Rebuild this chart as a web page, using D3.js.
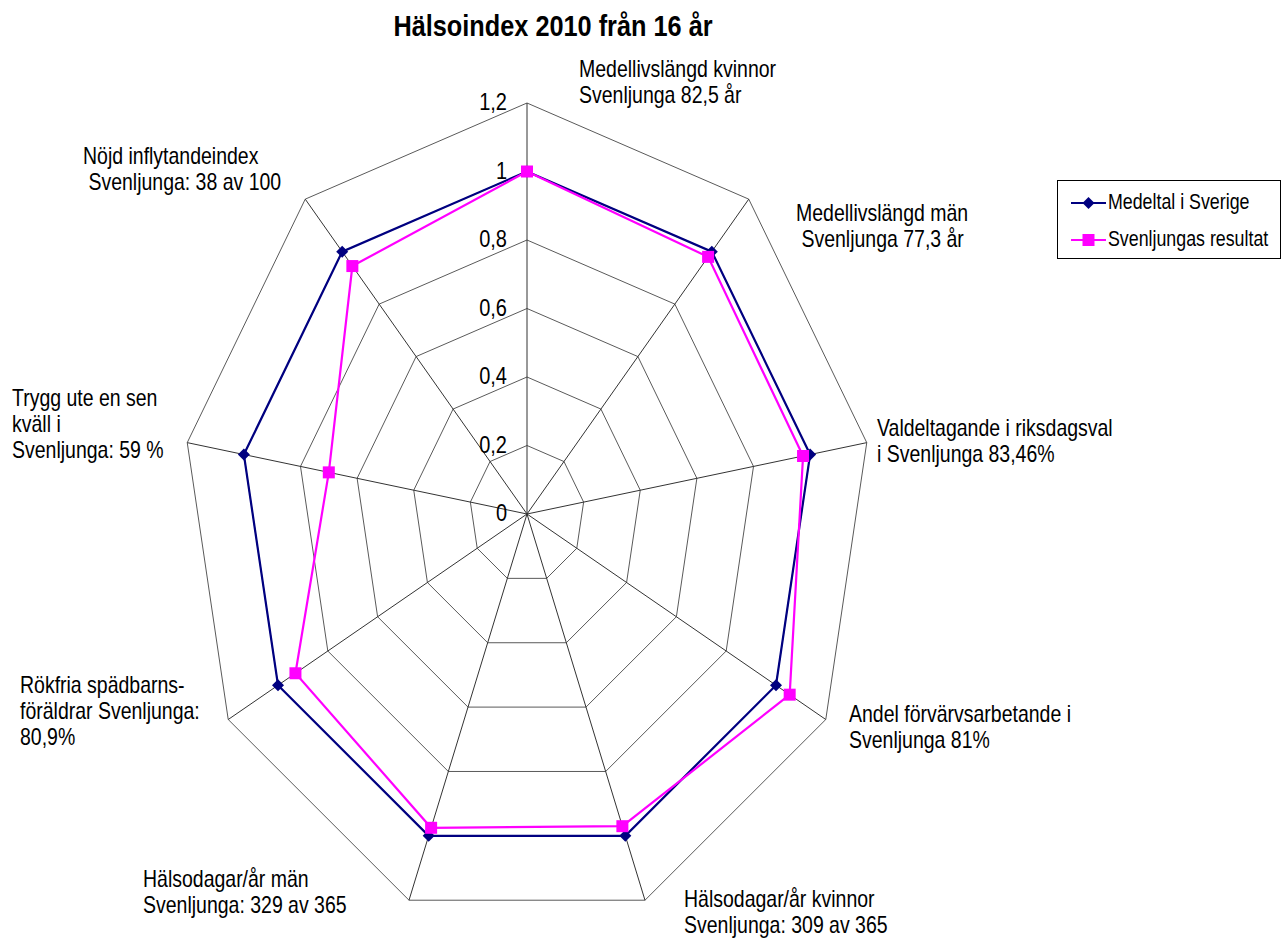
<!DOCTYPE html>
<html>
<head>
<meta charset="utf-8">
<script src="https://cdn.jsdelivr.net/npm/d3@7"></script>
<style>
  body { margin: 0; background: #fff; }
  text { font-family: "Liberation Sans", Arial, sans-serif; fill: #000; }
</style>
</head>
<body>
<div id="chart"></div>
<script>
// Hälsoindex radar chart

const title = 'Hälsoindex 2010 från 16 år';

const categories = [
  ['Medellivslängd kvinnor', 'Svenljunga 82,5 år'],
  ['Medellivslängd män', ' Svenljunga 77,3 år'],
  ['Valdeltagande i riksdagsval', 'i Svenljunga 83,46%'],
  ['Andel förvärvsarbetande i', 'Svenljunga 81%'],
  ['Hälsodagar/år kvinnor', 'Svenljunga: 309 av 365'],
  ['Hälsodagar/år män', 'Svenljunga: 329 av 365'],
  ['Rökfria spädbarns-', 'föräldrar Svenljunga:', '80,9%'],
  ['Trygg ute en sen', 'kväll i', 'Svenljunga: 59 %'],
  ['Nöjd inflytandeindex', ' Svenljunga: 38 av 100']
];

const seriesNames = ['Medeltal i Sverige', 'Svenljungas resultat'];
const sverige = [1, 1, 1, 1, 1, 1, 1, 1, 1];
const svenljunga = [1, 0.98, 0.975, 1.055, 0.97, 0.975, 0.93, 0.70, 0.945];
const ticks = [0, 0.2, 0.4, 0.6, 0.8, 1, 1.2];
const tickLabels = ['0', '0,2', '0,4', '0,6', '0,8', '1', '1,2'];

// label anchor (top-left of first line) for each axis, in px
const labelPos = [
  [579, 77], [796, 221], [877, 436], [849, 722], [684, 907],
  [143, 887], [20, 693], [12, 406], [83, 164]
];

const W = 1282, H = 940;
const cx = 527, cy = 514;
const RX = 345, RY = 411;   // chart is stretched vertically
const SY = 1.2;             // text vertical stretch

const svg = d3.select('#chart').append('svg')
  .attr('width', W).attr('height', H);

const r = d3.scaleLinear().domain([0, 1.2]).range([0, 1]);
const angle = d3.scaleLinear().domain([0, categories.length]).range([0, 2 * Math.PI]);

const pt = (i, v) => {
  const a = angle(i);
  return [cx + Math.sin(a) * r(v) * RX, cy - Math.cos(a) * r(v) * RY];
};

function stretchedText(g, x, y, str, size, anchor, weight) {
  return g.append('text')
    .attr('transform', `translate(${x},${y}) scale(1,${SY})`)
    .attr('font-size', size)
    .attr('font-weight', weight || 'normal')
    .attr('text-anchor', anchor || 'start')
    .text(str);
}

// grid polygons
const grid = svg.append('g');
ticks.filter(t => t > 0).forEach(t => {
  const pts = categories.map((c, i) => pt(i, t));
  grid.append('polygon')
    .attr('points', pts.map(p => p.join(',')).join(' '))
    .attr('fill', 'none')
    .attr('stroke', '#5a5a5a')
    .attr('stroke-width', 1);
});

// spokes
categories.forEach((c, i) => {
  const [x2, y2] = pt(i, 1.2);
  grid.append('line')
    .attr('x1', cx).attr('y1', cy).attr('x2', x2).attr('y2', y2)
    .attr('stroke', '#333').attr('stroke-width', 1);
});

// tick labels
ticks.forEach((t, i) => {
  const [, y] = pt(0, t);
  stretchedText(svg, 507, y + 7, tickLabels[i], 20, 'end');
});

// series
const line = d3.line().curve(d3.curveLinearClosed);
const series = [
  { name: seriesNames[0], values: sverige, color: '#000080', marker: 'diamond' },
  { name: seriesNames[1], values: svenljunga, color: '#FF00FF', marker: 'square' }
];

const markerPath = (type, x, y) => {
  if (type === 'diamond') {
    const s = 6;
    return `M${x},${y - s}L${x + s},${y}L${x},${y + s}L${x - s},${y}Z`;
  }
  const s = 6;
  return `M${x - s},${y - s}h${2 * s}v${2 * s}h${-2 * s}Z`;
};

series.forEach(s => {
  const pts = s.values.map((v, i) => pt(i, v));
  svg.append('path')
    .attr('d', line(pts))
    .attr('fill', 'none')
    .attr('stroke', s.color)
    .attr('stroke-width', 2.2);
  svg.append('g').selectAll('path')
    .data(pts)
    .enter().append('path')
    .attr('d', d => markerPath(s.marker, d[0], d[1]))
    .attr('fill', s.color);
});

// axis labels
categories.forEach((lines, i) => {
  const [x, y] = labelPos[i];
  lines.forEach((l, j) => {
    stretchedText(svg, x, y + j * 26, l, 19.5, 'start').attr('xml:space', 'preserve');
  });
});

// title
stretchedText(svg, 553, 36, title, 25.3, 'middle', 'bold');

// legend
const leg = svg.append('g');
leg.append('rect')
  .attr('x', 1057.5).attr('y', 180.5).attr('width', 223).attr('height', 78)
  .attr('fill', '#fff').attr('stroke', '#000').attr('stroke-width', 1);
series.forEach((s, i) => {
  const y = 203 + i * 37;
  leg.append('line')
    .attr('x1', 1071).attr('x2', 1106).attr('y1', y).attr('y2', y)
    .attr('stroke', s.color).attr('stroke-width', 2.2);
  leg.append('path')
    .attr('d', markerPath(s.marker, 1088.5, y))
    .attr('fill', s.color);
  stretchedText(leg, 1108, y + 6, s.name, 17.8, 'start');
});
</script>
</body>
</html>
